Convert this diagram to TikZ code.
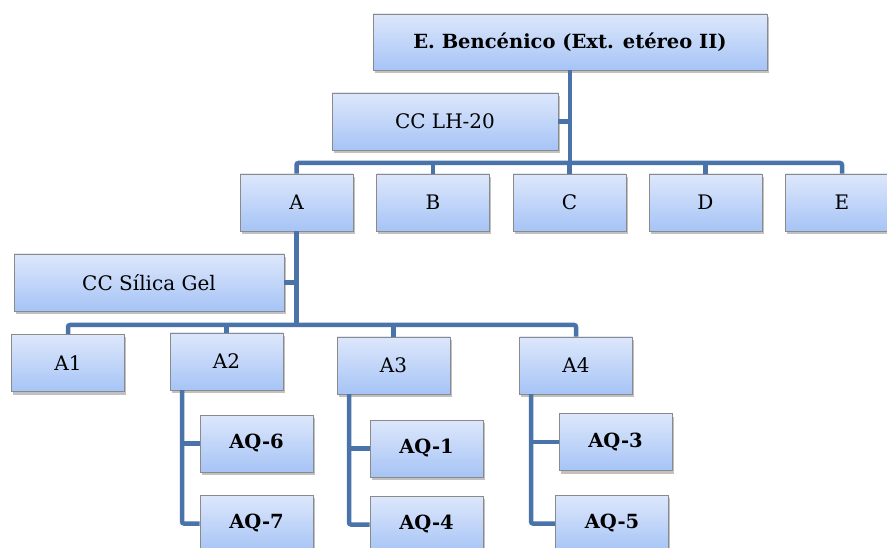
\documentclass[tikz,border=0pt]{standalone}
\usepackage{fontspec}
\setmainfont{DejaVu Serif}
\usetikzlibrary{shadows}
\definecolor{boxtop}{HTML}{DDE7FB}
\definecolor{boxbot}{HTML}{A6C4F6}
\definecolor{boxline}{HTML}{8A8A8A}
\definecolor{conn}{HTML}{4A73A9}
\tikzset{
  box/.style={draw=boxline, line width=0.9pt, top color=boxtop, bottom color=boxbot,
    minimum width=113pt, minimum height=57pt, inner sep=0pt, align=center,
    font=\fontsize{20}{23}\selectfont,
    drop shadow={opacity=0.35, shadow xshift=1.5pt, shadow yshift=-3pt, fill=black!70}},
  boldbox/.style={box, font=\fontsize{19.5}{23}\selectfont\bfseries},
  link/.style={draw=conn, line width=4.5pt, rounded corners=2pt}
}
\begin{document}
\begin{tikzpicture}[x=1pt, y=-1pt]
\useasboundingbox (0,0) rectangle (887,548);
\clip (0,0) rectangle (887,548);
% nodes
\node[boldbox, minimum width=394pt, minimum height=56pt] (top) at (570,42) {E. Bencénico (Ext. etéreo II)};
\node[box, minimum width=226pt] (lh) at (445,121.5) {CC LH-20};
\node[box] (A) at (296.5,202.5) {A};
\node[box] (B) at (433,202.5) {B};
\node[box] (C) at (569.5,202.5) {C};
\node[box] (D) at (705.5,202.5) {D};
\node[box] (E) at (842,202.5) {E};
\node[box, minimum width=270pt] (sil) at (149,282.5) {CC Sílica Gel};
\node[box] (A1) at (68,363) {A1};
\node[box] (A2) at (226.5,361.5) {A2};
\node[box] (A3) at (393.5,365.5) {A3};
\node[box] (A4) at (576,365.5) {A4};
\node[boldbox] (AQ6) at (256.5,443.5) {AQ-6};
\node[boldbox] (AQ7) at (256.5,523.5) {AQ-7};
\node[boldbox] (AQ1) at (426.5,448.5) {AQ-1};
\node[boldbox] (AQ4) at (426.5,524.5) {AQ-4};
\node[boldbox] (AQ3) at (615.5,442) {AQ-3};
\node[boldbox] (AQ5) at (612,523.5) {AQ-5};
% connectors
\coordinate (h1) at (570,163);
\draw[link] (top.south) -- (h1);
\draw[link] (lh.east) -- (lh.east -| h1);
\draw[link] (A.north) |- (h1) -| (E.north);
\draw[link] (B.north) -- (B.north |- h1);
\draw[link] (C.north) -- (C.north |- h1);
\draw[link] (D.north) -- (D.north |- h1);
\coordinate (h2) at (296.5,325);
\draw[link] (A.south) -- (h2);
\draw[link] (sil.east) -- (sil.east -| h2);
\draw[link] (A1.north) |- (h2) -| (A4.north);
\draw[link] (A2.north) -- (A2.north |- h2);
\draw[link] (A3.north) -- (A3.north |- h2);
% A2 children
\coordinate (v2) at (182,390);
\draw[link] (v2) |- (AQ7.west);
\draw[link] (AQ6.west) -- (AQ6.west -| v2);
% A3 children
\coordinate (v3) at (349,394);
\draw[link] (v3) |- (AQ4.west);
\draw[link] (AQ1.west) -- (AQ1.west -| v3);
% A4 children
\coordinate (v4) at (531,394);
\draw[link] (v4) |- (AQ5.west);
\draw[link] (AQ3.west) -- (AQ3.west -| v4);
\end{tikzpicture}
\end{document}
